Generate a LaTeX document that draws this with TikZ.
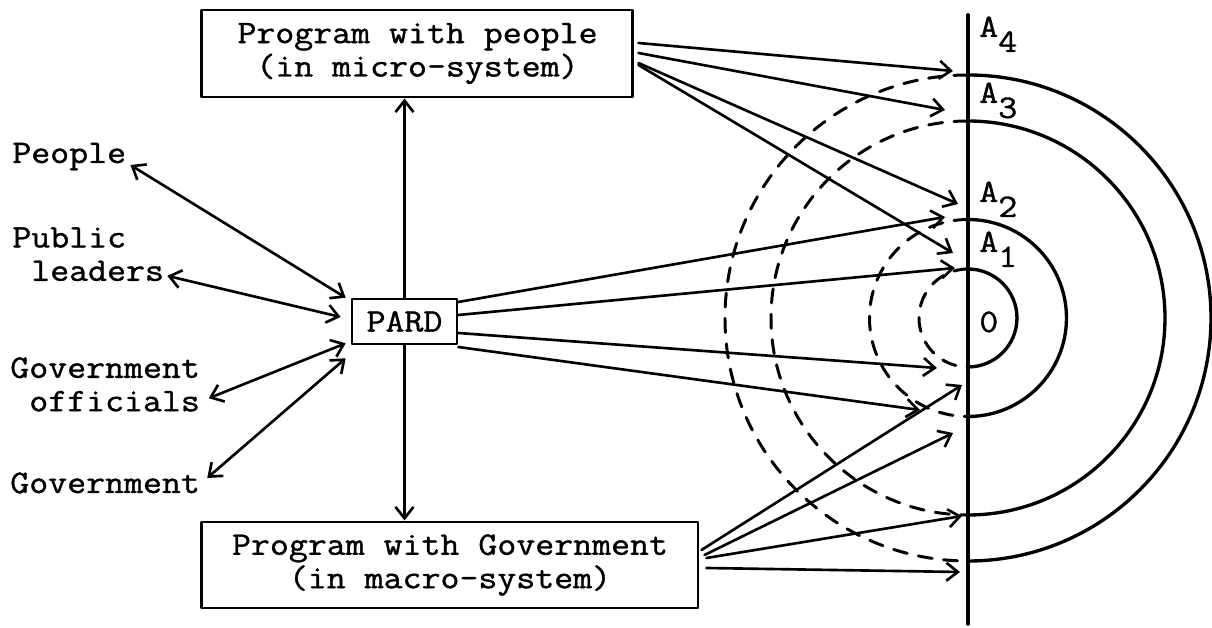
\documentclass[tikz,border=0pt]{standalone}
\usepackage{fontspec}
\usepackage{tikz}
\usetikzlibrary{
    arrows.meta,
    positioning
}
\newfontfamily\typer{Latin Modern Mono}[FakeStretch=1.12, FakeBold=1.2]
\newcommand{\level}[1]{A\raisebox{-8.5pt}{#1}}

\begin{document}
\begin{tikzpicture}[
    line cap=round, line join=round,
    >={Straight Barb[length=2.3mm, width=3.6mm]},
    %% --- semantic styles ---
    typed/.style      = {font=\typer\fontsize{18.7pt}{19pt}\selectfont},
    progbox/.style    = {rectangle, draw, line width=1.7pt, typed,
                         align=center, inner sep=0pt},
    hubbox/.style     = {rectangle, draw, line width=1.5pt, typed,
                         minimum width=21mm, minimum height=9mm,
                         inner sep=0pt},
    actor/.style      = {typed, align=left, inner sep=0pt},
    link/.style       = {<->, line width=1.5pt},
    ray/.style        = {->, line width=1.5pt},
    axis/.style       = {line width=2.1pt},
    ring/.style       = {line width=1.9pt},
    ringdash/.style   = {line width=1.7pt, dash pattern=on 8pt off 6.5pt},
    levellabel/.style = {typed, anchor=base west, inner sep=0pt}
]
\useasboundingbox (-19.36,-6.2) rectangle (4.88,6.36);

%% =====================================================
%% PARD and the two programmes
%% =====================================================
\node[hubbox] (PARD) at (-11.27,-0.07) {PARD};
\node[progbox, minimum width=86.2mm, minimum height=17.4mm] (TOP)
    at (-11.01,5.29) {Program with people\\(in micro-system)};
\node[progbox, minimum width=99.2mm, minimum height=17.2mm] (BOT)
    at (-10.36,-4.94) {Program with Government\\(in macro-system)};

\draw[ray] (PARD.north) -- (PARD.north |- TOP.south);
\draw[ray] (PARD.south) -- (PARD.south |- BOT.north);

%% =====================================================
%% Actors on the left
%% =====================================================
\node[actor, anchor=base west]  (PEO) at (-19.12, 3.10) {People};
\node[actor, anchor=north west] (PUB) at (-19.12, 1.82)
    {Public\\\phantom{l}leaders};
\node[actor, anchor=north west] (GOF) at (-19.16,-0.78)
    {Government\\\phantom{o}officials};
\node[actor, anchor=base west]  (GOV) at (-19.16,-3.50) {Government};

\draw[link] ([shift={(0.08,-0.04)}]PEO.base east)
    -- ([shift={(-0.1,0)}]PARD.north west);
\draw[link] ([shift={(0.06,0.11)}]PUB.south east)
    -- ([shift={(-0.2,0.09)}]PARD.west);
\draw[link] ([shift={(0.17,0.27)}]GOF.south east)
    -- ([shift={(-0.1,0.04)}]PARD.south west);
\draw[link] ([shift={(0.14,0.1)}]GOV.east)
    -- ([shift={(-0.1,-0.26)}]PARD.south west);

%% =====================================================
%% Axis and rings
%% =====================================================
\coordinate (axtop) at (0, 6.06);
\coordinate (axbot) at (0,-6.12);
\draw[axis] (axtop) -- (axbot);

\foreach \r in {0.98, 1.97, 3.94, 4.86} {
    \draw[ring] (0,\r) arc[start angle=90, end angle=-90, radius=\r];
    \draw[ringdash] (0,\r) arc[start angle=90, end angle=270, radius=\r];
}

\node[levellabel] (LA4) at (0.22, 5.62) {\level{4}};
\node[levellabel] (LA3) at (0.22, 4.30) {\level{3}};
\node[levellabel] (LA2) at (0.22, 2.32) {\level{2}};
\node[levellabel] (LA1) at (0.22, 1.32) {\level{1}};
\node[levellabel] (LO)  at (0.22,-0.28) {0};

%% =====================================================
%% Rays into the rings
%% =====================================================
% ends next to the axis
\coordinate (u1) at (-0.30, 4.94);
\coordinate (u2) at (-0.46, 4.16);
\coordinate (u3) at (-0.20, 2.28);
\coordinate (u4) at (-0.30, 1.30);
\coordinate (m1) at (-0.46, 2.02);
\coordinate (m2) at (-0.26, 1.00);
\coordinate (m3) at (-0.62,-1.00);
\coordinate (m4) at (-0.96,-1.84);
\coordinate (d1) at (-0.12,-1.34);
\coordinate (d2) at (-0.30,-2.30);
\coordinate (d3) at (-0.12,-3.96);
\coordinate (d4) at (-0.16,-5.08);

\foreach \dy/\t in {0.21/u1, 0.01/u2, -0.19/u3, -0.23/u4}
    \draw[ray] ([shift={(0.08,\dy)}]TOP.east) -- (\t);
\foreach \dy/\t in {0.39/m1, 0.13/m2, -0.23/m3, -0.51/m4}
    \draw[ray] ([yshift=\dy cm]PARD.east) -- (\t);
\foreach \dx/\dy/\t in {0.04/0.30/d1, 0.10/0.20/d2, 0.14/0.14/d3, 0.14/-0.06/d4}
    \draw[ray] ([shift={(\dx,\dy)}]BOT.east) -- (\t);

\end{tikzpicture}
\end{document}
